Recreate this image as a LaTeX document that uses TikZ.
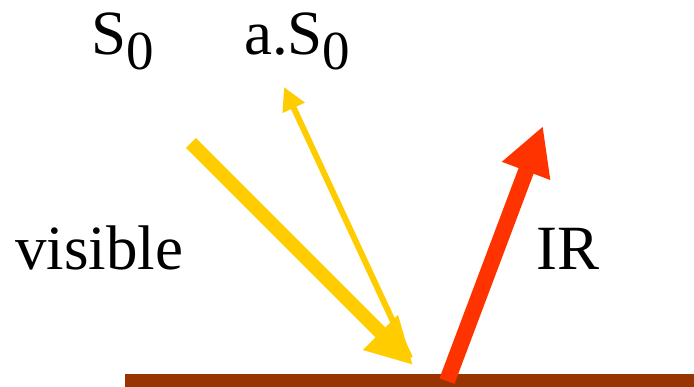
\documentclass[tikz,border=0pt]{standalone}
\usepackage{fontspec}
\setmainfont{Liberation Serif}
\usetikzlibrary{arrows.meta}
\definecolor{Yc}{HTML}{FFCC00}
\definecolor{Rc}{HTML}{FF3300}
\definecolor{Gc}{HTML}{993300}
\newcommand{\lowidx}[1]{\raisebox{-15pt}{\fontsize{55}{60}\selectfont #1}}
\tikzset{
  lbl/.style={anchor=base west, inner sep=0pt, font=\fontsize{63}{70}\selectfont},
  inray/.style={Yc, line width=14pt, -{Triangle[length=46pt, width=46pt]}},
  outray/.style={Yc, line width=6pt, -{Triangle[length=23pt, width=23pt]}},
  irray/.style={Rc, line width=16pt, -{Triangle[length=48pt, width=48pt]}},
}

\begin{document}
\begin{tikzpicture}[x=1pt, y=-1pt]
  \useasboundingbox (0,0) rectangle (694,387);
  % ground
  \fill[Gc] (125,374) rectangle (694,387);
  % rays
  \coordinate (sun) at (191,143);
  \coordinate (hit) at (413,365);
  \coordinate (rbase) at (410,358);
  \coordinate (rtip) at (284,87);
  \coordinate (ebase) at (447,381);
  \coordinate (etip) at (543,126);
  \draw[inray] (sun) -- (hit);
  \draw[outray] (rbase) -- (rtip);
  \draw[irray] (ebase) -- (etip);
  % labels
  \node[lbl] (s0) at (91,55) {S\lowidx{0}};
  \node[lbl] (as0) at (244,55) {a.S\lowidx{0}};
  \node[lbl] (vis) at (15,270) {visible};
  \node[lbl] (ir) at (536,270) {IR};
\end{tikzpicture}
\end{document}
